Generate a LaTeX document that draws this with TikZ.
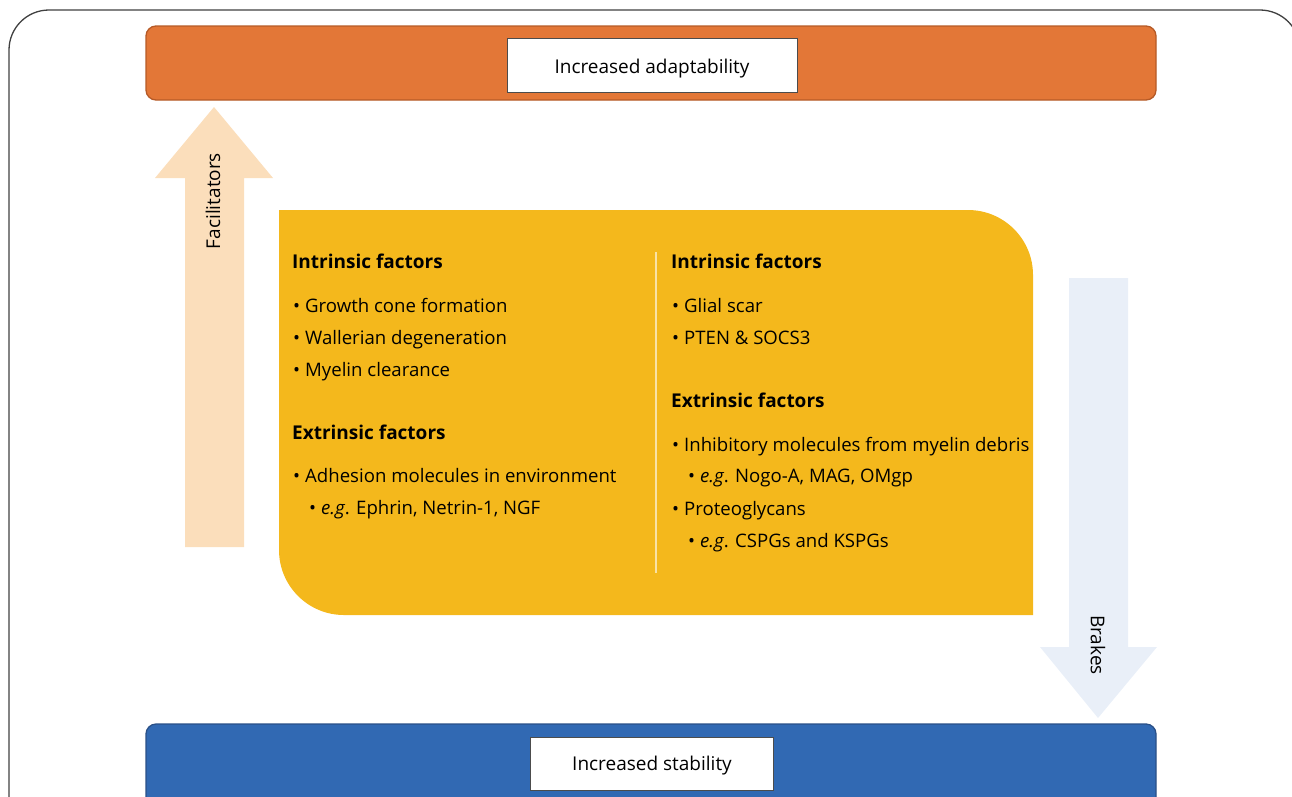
\documentclass[tikz,border=0pt]{standalone}
\usepackage{fontspec}
\setmainfont{Open Sans}

\definecolor{adaptfill}{HTML}{E37737}
\definecolor{adaptline}{HTML}{B55A27}
\definecolor{stabfill}{HTML}{3169B3}
\definecolor{stabline}{HTML}{2A5087}
\definecolor{factorfill}{HTML}{F4B81C}
\definecolor{dividerline}{HTML}{F9E2A6}
\definecolor{facilfill}{HTML}{FBDEBB}
\definecolor{brakefill}{HTML}{E9EFF8}

\newcommand{\bul}{\textbullet\hspace{5pt}}

\tikzset{
  labelbox/.style={draw=black!70, fill=white, line width=0.8pt, inner sep=0pt},
  heading/.style={anchor=base west, inner sep=0pt, font=\fontsize{19}{22}\selectfont\bfseries},
  entry/.style={anchor=base west, inner sep=0pt, font=\fontsize{18.6}{22}\selectfont},
}

\begin{document}
\begin{tikzpicture}[x=1pt, y=-1pt, font=\fontsize{19}{22}\selectfont]

\useasboundingbox (0,0) rectangle (1292,796);
\clip (0,0) rectangle (1292,796);

\draw[black!75, line width=1.3pt, rounded corners=40pt] (9,10) rectangle (1300,840);%outer frame

\filldraw[fill=adaptfill, draw=adaptline, line width=1.3pt, rounded corners=10pt] (146,26) rectangle (1156,100);
\node[labelbox, minimum width=290pt, text height=35pt, text depth=19pt] (adapt) at (652,65) {Increased adaptability};

\filldraw[fill=stabfill, draw=stabline, line width=1.3pt, rounded corners=10pt] (146,724) rectangle (1156,830);
\node[labelbox, minimum width=243pt, text height=33pt, text depth=20pt] (stab) at (652,763.5) {Increased stability};

% arrows
\fill[facilfill] (185,547) -- (185,178) -- (155,178) -- (214,107) -- (273,178) -- (244,178) -- (244,547) -- cycle;
\node[rotate=90] (facil) at (213,201) {Facilitators};

\fill[brakefill] (1069,278) -- (1069,647) -- (1040,647) -- (1098,718) -- (1157,647) -- (1128,647) -- (1128,278) -- cycle;
\node[rotate=-90] (brake) at (1098,645) {Brakes};

% factors box
\fill[factorfill] (279,210) -- (968,210) arc[start angle=90, end angle=0, radius=65pt] -- (1033,615)
  -- (344,615) arc[start angle=270, end angle=180, radius=65pt] -- cycle;
\draw[dividerline, line width=2pt] (656,252) -- (656,573);

% facilitating factors
\node[heading] (lhead1) at (292,268) {Intrinsic factors};
\node[entry] (l1) at (293,312) {\bul Growth cone formation};
\node[entry] (l2) at (293,344) {\bul Wallerian degeneration};
\node[entry] (l3) at (293,376) {\bul Myelin clearance};
\node[heading] (lhead2) at (292,439) {Extrinsic factors};
\node[entry] (l4) at (293,482) {\bul Adhesion molecules in environment};
\node[entry] (l5) at (309,514) {\bul\textit{e.g}. Ephrin, Netrin-1, NGF};

% braking factors
\node[heading] (rhead1) at (671,268) {Intrinsic factors};
\node[entry] (r1) at (672,312) {\bul Glial scar};
\node[entry] (r2) at (672,344) {\bul PTEN \& SOCS3};
\node[heading] (rhead2) at (671,407) {Extrinsic factors};
\node[entry] (r3) at (672,451) {\bul Inhibitory molecules from myelin debris};
\node[entry] (r4) at (688,482) {\bul\textit{e.g}. Nogo-A, MAG, OMgp};
\node[entry] (r5) at (672,515) {\bul Proteoglycans};
\node[entry] (r6) at (688,547) {\bul\textit{e.g}. CSPGs and KSPGs};

\end{tikzpicture}
\end{document}
